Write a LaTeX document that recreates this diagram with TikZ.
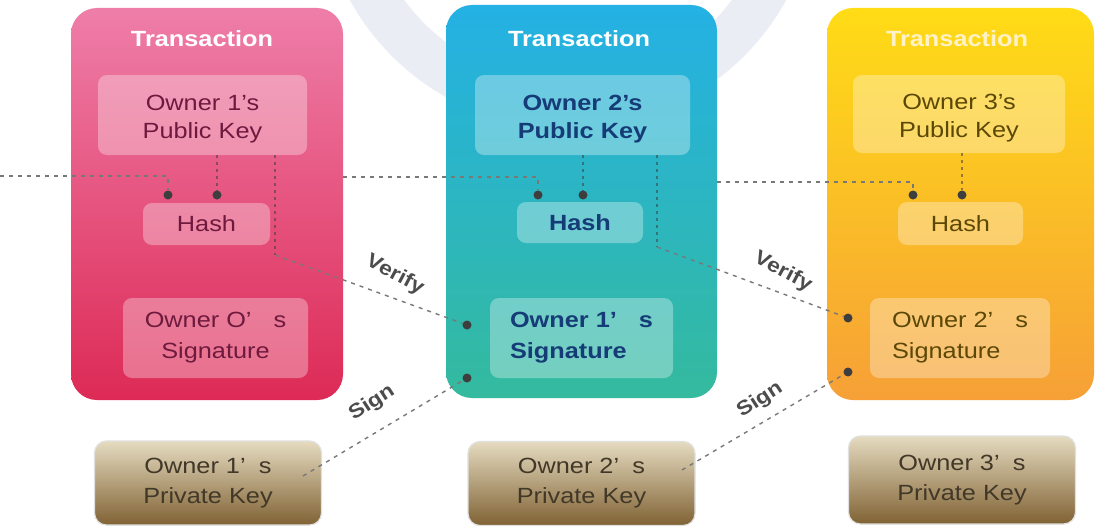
\documentclass[tikz,border=0pt]{standalone}
\usepackage{fontspec}
\setmainfont{Liberation Sans}
\newfontfamily\wf[FakeStretch=1.15]{Liberation Sans}
\definecolor{pinkT}{RGB}{238,126,168}
\definecolor{pinkB}{RGB}{221,42,86}
\definecolor{cyanT}{RGB}{36,177,228}
\definecolor{cyanB}{RGB}{52,186,158}
\definecolor{yelT}{RGB}{255,220,22}
\definecolor{yelB}{RGB}{246,160,55}
\definecolor{pinkTx}{RGB}{110,26,62}
\definecolor{cyanTx}{RGB}{22,60,120}
\definecolor{yelTx}{RGB}{92,72,6}
\definecolor{pvT}{RGB}{229,219,192}
\definecolor{pvB}{RGB}{128,98,52}
\definecolor{pvTx}{RGB}{66,56,40}
\definecolor{lineC}{RGB}{120,120,120}
\definecolor{dotC}{RGB}{62,62,62}
\definecolor{ringC}{RGB}{234,237,244}
\definecolor{yelTitle}{RGB}{255,242,200}
\newcommand{\dn}{\rule{0pt}{24pt}}
\begin{document}
\begin{tikzpicture}[x=1pt,y=-1pt,
  txbox/.style={inner sep=0pt, rounded corners=26pt},
  title/.style={font=\wf\bfseries\fontsize{22}{26}\selectfont, text=white, anchor=base},
  inbox/.style={inner sep=0pt, rounded corners=9pt, fill=white, fill opacity=0.32, text opacity=1, align=center, font=\wf\fontsize{22}{28}\selectfont},
  sigfont/.style={font=\wf\fontsize{22}{31}\selectfont},
  pvbox/.style={inner sep=0pt, rounded corners=12pt, top color=pvT, bottom color=pvB, draw=black!12, line width=1.2pt, text=pvTx, align=center, font=\wf\fontsize{22}{30}\selectfont, minimum width=227pt, minimum height=84pt},
  dot/.style={circle, fill=dotC, inner sep=0pt, minimum size=9pt},
  link/.style={draw=lineC, line width=1.4pt, dash pattern=on 4pt off 5pt},
  inlink/.style={draw=dotC, line width=1.3pt, draw opacity=0.55, dash pattern=on 3pt off 4pt},
  lbl/.style={font=\wf\bfseries\fontsize{20}{24}\selectfont, text=black!70}
]
\fill[white] (0,0) rectangle (1097,527);
\useasboundingbox (0,0) rectangle (1097,527);
\clip (0,0) rectangle (1097,527);
% watermark ring
\draw[ringC, line width=46pt] (568,-120) circle[radius=226pt];

% transaction boxes
\node[txbox, top color=pinkT, bottom color=pinkB, minimum width=272pt, minimum height=392pt] (tx1) at (207,204) {};
\node[txbox, top color=cyanT, bottom color=cyanB, minimum width=271pt, minimum height=393pt] (tx2) at (581.5,201.5) {};
\node[txbox, top color=yelT, bottom color=yelB, minimum width=267pt, minimum height=392pt] (tx3) at (960.5,204) {};

\node[title] (t1) at (202,47) {Transaction};
\node[title] (t2) at (579,47) {Transaction};
\node[title, text=yelTitle] (t3) at (957,47) {Transaction};

% public keys
\node[inbox, text=pinkTx, minimum width=209pt, minimum height=80pt] (pk1) at (202.5,115) {\dn Owner 1’s\\Public Key};
\node[inbox, text=cyanTx, font=\wf\bfseries\fontsize{22}{28}\selectfont, minimum width=215pt, minimum height=80pt] (pk2) at (582.5,115) {\dn Owner 2’s\\Public Key};
\node[inbox, text=yelTx, minimum width=212pt, minimum height=78pt] (pk3) at (959,114) {\dn Owner 3’s\\Public Key};

% hashes
\node[inbox, text=pinkTx, minimum width=127pt, minimum height=42pt] (h1) at (206.5,224) {Hash};
\node[inbox, text=cyanTx, font=\wf\bfseries\fontsize{22}{28}\selectfont, minimum width=126pt, minimum height=41pt] (h2) at (580,222.5) {Hash};
\node[inbox, text=yelTx, minimum width=125pt, minimum height=43pt] (h3) at (960.5,223.5) {Hash};

% signatures
\node[inbox, sigfont, text=pinkTx, minimum width=185pt, minimum height=80pt] (s1) at (215.5,338) {Owner O’\quad s\\Signature};
\node[inbox, font=\wf\bfseries\fontsize{22}{31}\selectfont, align=left, text=cyanTx, minimum width=183pt, minimum height=80pt] (s2) at (581.5,338) {Owner 1’\quad s\\Signature};
\node[inbox, sigfont, align=left, text=yelTx, minimum width=180pt, minimum height=80pt] (s3) at (960,338) {Owner 2’\quad s\\Signature};

% private keys
\node[pvbox] (pv1) at (208,483) {Owner 1’\hspace{0.6em}s\\Private Key};
\node[pvbox] (pv2) at (581.5,483.5) {Owner 2’\hspace{0.6em}s\\Private Key};
\node[pvbox, minimum height=88pt] (pv3) at (962,480) {Owner 3’\hspace{0.6em}s\\Private Key};

% dots
\node[dot] (d1a) at (168,195) {};
\node[dot] (d1b) at (217,195) {};
\node[dot] (d2a) at (538,195) {};
\node[dot] (d2b) at (583,195) {};
\node[dot] (d3a) at (913,195) {};
\node[dot] (d3b) at (962,195) {};
\node[dot] (d2v) at (467,325) {};
\node[dot] (d2g) at (467,378) {};
\node[dot] (d3v) at (848,318) {};
\node[dot] (d3g) at (848,372) {};

% connectors
\coordinate (e0) at (0,176);
\draw[link] (e0) -| (d1a);
\draw[link] ([yshift=27pt]tx1.east) -| (d2a);
\draw[link] ([yshift=19.5pt]tx2.east) -| (d3a);
\draw[inlink] (pk1.south -| d1b) -- (d1b);
\draw[inlink] (pk2.south -| d2b) -- (d2b);
\draw[inlink] (pk3.south -| d3b) -- (d3b);
\coordinate (k1) at (275,255);
\coordinate (k2) at (657,247);
\draw[inlink] (pk1.south -| k1) -- (k1);
\draw[link] (k1) -- (d2v);
\draw[inlink] (pk2.south -| k2) -- (k2);
\draw[link] (k2) -- (d3v);
\coordinate (p1) at (303,476);
\coordinate (p2) at (682,470);
\draw[link] (p1) -- (d2g);
\draw[link] (p2) -- (d3g);

% labels
\node[lbl, rotate=-28] (v1) at (395,275) {Verify};
\node[lbl, rotate=-28] (v2) at (783,272) {Verify};
\node[lbl, rotate=33] (g1) at (372,403) {Sign};
\node[lbl, rotate=33] (g2) at (760,400) {Sign};
\end{tikzpicture}
\end{document}
